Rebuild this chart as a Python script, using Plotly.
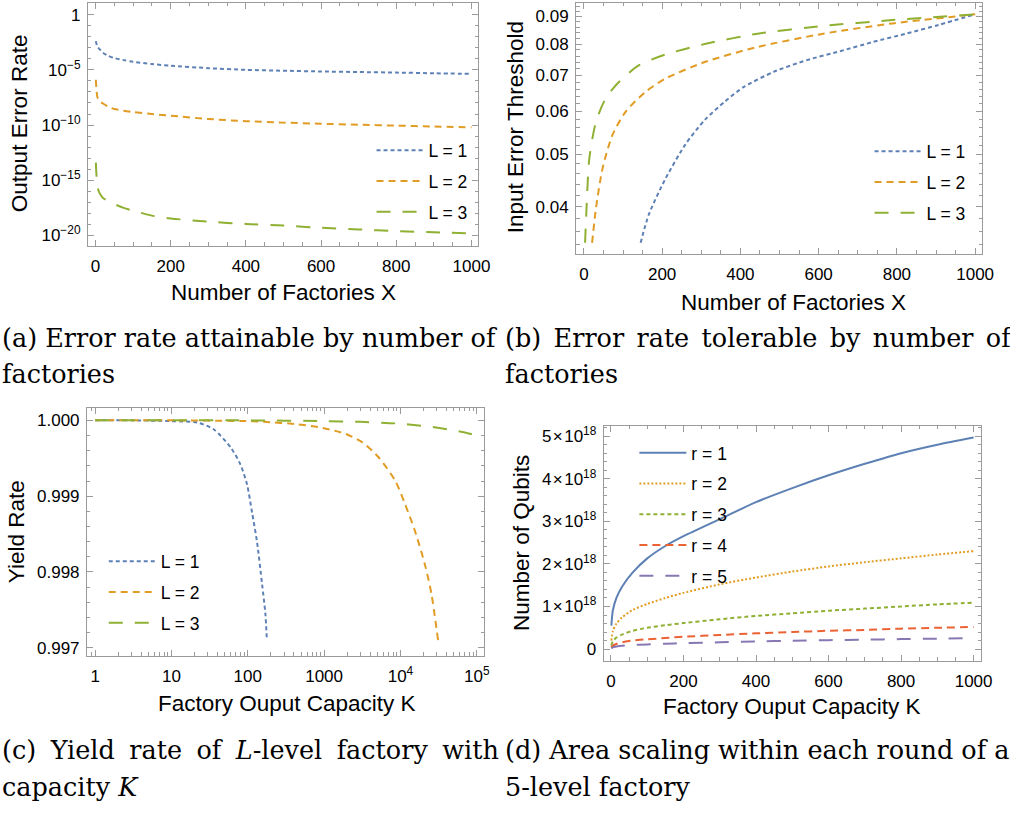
import plotly.graph_objects as go

W, H = 1010, 815
SANS = "Liberation Sans, Arial, Helvetica, sans-serif"
SERIF = "DejaVu Serif, serif"
FRAME = "#9b9b9b"
INK = "#000000"
BLUE, ORANGE, GREEN, RED, PURPLE = "#5E81B5", "#E19C24", "#8FB032", "#EB6235", "#8778B3"

# ---------------- (a) Output error rate vs number of factories (log10 exponents)
a_X = [1, 5, 10, 20, 35, 50, 75, 100, 150, 200, 300, 400, 500, 600, 700, 800, 900, 1000]
a_L1_exp = [-2.4, -2.9, -3.1, -3.45, -3.75, -3.93, -4.12, -4.27, -4.48, -4.63, -4.85, -5.0, -5.08, -5.15, -5.2, -5.25, -5.31, -5.37]
a_L2_exp = [-5.9, -7.45, -7.8, -8.05, -8.35, -8.55, -8.7, -8.82, -9.0, -9.15, -9.45, -9.65, -9.78, -9.88, -9.97, -10.05, -10.13, -10.2]
a_L3_exp = [-13.4, -15.5, -16.1, -16.6, -16.9, -17.15, -17.5, -17.75, -18.2, -18.45, -18.75, -18.95, -19.1, -19.3, -19.45, -19.6, -19.7, -19.8]

# ---------------- (b) Input error threshold vs number of factories
b_L1_X = [145, 166, 208, 259, 309, 360, 410, 486, 570, 655, 739, 823, 907, 1000]
b_L1 = [0.0343, 0.0387, 0.0450, 0.0521, 0.0579, 0.0626, 0.0667, 0.0711, 0.0747, 0.0776, 0.0807, 0.0836, 0.0868, 0.0908]
b_L2_X = [21, 31, 48, 73, 107, 158, 208, 309, 444, 612, 781, 1000]
b_L2 = [0.0343, 0.0398, 0.0472, 0.0543, 0.0600, 0.0653, 0.0690, 0.0741, 0.0790, 0.0836, 0.0872, 0.0908]
b_L3_X = [3, 6, 14, 31, 56, 90, 141, 208, 309, 444, 612, 781, 1000]
b_L3 = [0.0343, 0.0387, 0.0492, 0.0575, 0.0635, 0.0681, 0.0731, 0.0765, 0.0800, 0.0836, 0.0864, 0.0885, 0.0908]

# ---------------- (c) Yield rate vs factory output capacity K
c_L1_K = [1, 3, 10, 22, 36, 60, 80, 98, 114, 132, 154, 170, 178]
c_L1 = [1.0, 1.0, 0.99999, 0.99997, 0.99988, 0.99964, 0.99942, 0.99915, 0.99878, 0.9984, 0.99784, 0.99745, 0.9971]
c_L2_K = [1, 10, 100, 161, 436, 964, 1930, 3176, 5210, 8570, 11540, 15500, 20900, 25500, 31100]
c_L2 = [1.0, 1.0, 0.99999, 0.99998, 0.99995, 0.9999, 0.99982, 0.99971, 0.99951, 0.9992, 0.99889, 0.99854, 0.9981, 0.99771, 0.9971]
c_L3_K = [1, 10, 100, 1000, 3000, 8570, 23000, 42000, 70000, 100000]
c_L3 = [1.0, 1.0, 1.0, 0.99999, 0.99998, 0.99996, 0.99992, 0.99988, 0.99984, 0.9998]

# ---------------- (d) Number of qubits vs capacity K (units of 1e18)
d_K = [1, 5, 15, 30, 60, 100, 150, 200, 300, 400, 500, 600, 700, 800, 900, 1000]
d_r1 = [0.55, 0.9, 1.2, 1.46, 1.8, 2.13, 2.42, 2.65, 3.05, 3.45, 3.78, 4.08, 4.35, 4.6, 4.8, 4.97]
d_r2 = [0.2, 0.42, 0.6, 0.74, 0.92, 1.06, 1.2, 1.32, 1.52, 1.68, 1.82, 1.94, 2.04, 2.13, 2.22, 2.3]
d_r3 = [0.08, 0.18, 0.27, 0.34, 0.43, 0.5, 0.56, 0.61, 0.7, 0.78, 0.84, 0.9, 0.95, 1.0, 1.05, 1.09]
d_r4 = [0.03, 0.08, 0.12, 0.16, 0.2, 0.23, 0.26, 0.29, 0.33, 0.37, 0.4, 0.43, 0.45, 0.48, 0.5, 0.52]
d_r5 = [0.015, 0.04, 0.06, 0.08, 0.095, 0.11, 0.125, 0.14, 0.16, 0.18, 0.195, 0.21, 0.22, 0.235, 0.245, 0.257]
D_UNIT = 1e18

L_names = ["L = 1", "L = 2", "L = 3"]
r_names = ["r = 1", "r = 2", "r = 3", "r = 4", "r = 5"]

DASH_L = ["4px,3px", "7px,5px", "14px,12px"]
DASH_R = ["solid", "2px,2px", "4px,3px", "8px,5px", "14px,12px"]

fig = go.Figure()


def add(x, y, name, color, dash, xa, ya, legend):
    fig.add_trace(go.Scatter(
        x=x, y=y, name=name, mode="lines",
        line=dict(color=color, width=2, dash=dash, shape="spline", smoothing=0.7),
        xaxis=xa, yaxis=ya, legend=legend, legendgroup=legend + name,
        hoverinfo="skip"))


cols = [BLUE, ORANGE, GREEN]
for name, ex, col, ds in zip(L_names, [a_L1_exp, a_L2_exp, a_L3_exp], cols, DASH_L):
    add(a_X, [10 ** e for e in ex], name, col, ds, "x", "y", "legend")
for name, xs, ys, col, ds in zip(L_names, [b_L1_X, b_L2_X, b_L3_X], [b_L1, b_L2, b_L3], cols, DASH_L):
    add(xs, ys, name, col, ds, "x2", "y2", "legend2")
for name, xs, ys, col, ds in zip(L_names, [c_L1_K, c_L2_K, c_L3_K], [c_L1, c_L2, c_L3], cols, DASH_L):
    add(xs, ys, name, col, ds, "x3", "y3", "legend3")
for name, ys, col, ds in zip(r_names, [d_r1, d_r2, d_r3, d_r4, d_r5], [BLUE, ORANGE, GREEN, RED, PURPLE], DASH_R):
    add(d_K, [v * D_UNIT for v in ys], name, col, ds, "x4", "y4", "legend4")


def dom_x(a, b):
    return [a / W, b / W]


def dom_y(top, bottom):
    return [1 - bottom / H, 1 - top / H]


def axis(domain, rng, anchor, tickvals, ticktext, minor_vals, typ="linear", standoff=3):
    return dict(domain=domain, range=rng, anchor=anchor, type=typ,
                showline=True, linecolor=FRAME, linewidth=1, mirror="ticks",
                showgrid=False, zeroline=False,
                ticks="inside", ticklen=6, tickwidth=1, tickcolor=FRAME,
                tickmode="array", tickvals=tickvals, ticktext=ticktext,
                tickfont=dict(family=SANS, size=17, color=INK),
                ticklabelstandoff=standoff,
                minor=dict(ticks="inside", ticklen=3.5, tickwidth=1, tickcolor=FRAME,
                           tickmode="array", tickvals=minor_vals, showgrid=False),
                fixedrange=True)


lin_ticks = [0, 200, 400, 600, 800, 1000]
lin_minor = [v for v in range(50, 1001, 50) if v % 200 != 0]

# (a)
a_yt = [1, 1e-5, 1e-10, 1e-15, 1e-20]
a_ytt = ["1", "10<sup>\u22125</sup>", "10<sup>\u221210</sup>", "10<sup>\u221215</sup>", "10<sup>\u221220</sup>"]
a_ym = [10.0 ** (-k) for k in range(1, 21) if k % 5 != 0]
# (b)
b_yt = [0.04, 0.05, 0.06, 0.07, 0.08, 0.09]
b_ym = [round(0.032 + 0.002 * k, 3) for k in range(0, 32)]
b_ym = [v for v in b_ym if round(v * 100, 6) % 1 != 0]
# (c)
c_xt = [1, 10, 100, 1000, 1e4, 1e5]
c_xtt = ["1", "10", "100", "1000", "10<sup>4</sup>", "10<sup>5</sup>"]
c_xm = [0.8, 0.9] + [d * 10 ** k for k in range(0, 5) for d in range(2, 10)]
c_yt = [0.997, 0.998, 0.999, 1.0]
c_ytt = ["0.997", "0.998", "0.999", "1.000"]
c_ym = [round(0.997 + 0.0002 * k, 5) for k in range(0, 16) if k % 5 != 0]
# (d)
d_yt = [k * D_UNIT for k in range(0, 6)]
d_ytt = ["0"] + ["%d\u200a\u00d7\u200a10<sup>18</sup>" % k for k in range(1, 6)]
d_ym = [k * 0.2 * D_UNIT for k in range(0, 27) if k % 5 != 0]

fig.update_layout(
    width=W, height=H, margin=dict(l=0, r=0, t=0, b=0),
    paper_bgcolor="white", plot_bgcolor="white", showlegend=True,
    xaxis=axis(dom_x(89, 484), [-20, 1018], "y", lin_ticks, [str(v) for v in lin_ticks], lin_minor, standoff=5),
    yaxis=axis(dom_y(1, 245), [-20.93, 1.05], "x", a_yt, a_ytt, a_ym, typ="log"),
    xaxis2=axis(dom_x(583, 994), [-20, 1018], "y2", lin_ticks, [str(v) for v in lin_ticks], lin_minor, standoff=5),
    yaxis2=axis(dom_y(1, 253), [-1.485, -1.021], "x2", b_yt, ["%.2f" % v for v in b_yt], b_ym, typ="log"),
    xaxis3=axis(dom_x(88, 490), [-0.107, 5.097], "y3", c_xt, c_xtt, c_xm, typ="log", standoff=5),
    yaxis3=axis(dom_y(408, 657), [0.996895, 1.000163], "x3", c_yt, c_ytt, c_ym),
    xaxis4=axis(dom_x(611, 993), [-20, 1021], "y4", lin_ticks, [str(v) for v in lin_ticks], lin_minor, standoff=5),
    yaxis4=axis(dom_y(426, 662), [-0.274 * D_UNIT, 5.24 * D_UNIT], "x4", d_yt, d_ytt, d_ym),
)


def legend_at(xpx, ypx):
    return dict(x=xpx / W, y=1 - ypx / H, xanchor="left", yanchor="top",
                bgcolor="rgba(0,0,0,0)", borderwidth=0,
                font=dict(family=SANS, size=17.5, color=INK),
                itemwidth=47, tracegroupgap=5, traceorder="grouped",
                itemclick=False, itemdoubleclick=False)


fig.update_layout(
    legend=legend_at(376, 131),
    legend2=legend_at(880, 132),
    legend3=legend_at(105, 544),
    legend4=legend_at(642, 435),
)

ann = []


def title(text, xpx, ypx, rot=False):
    ann.append(dict(text=text, x=xpx / W, y=1 - ypx / H, xref="paper", yref="paper",
                    showarrow=False, xanchor="center", yanchor="middle",
                    textangle=-90 if rot else 0,
                    font=dict(family=SANS, size=22.5, color=INK)))


title("Output Error Rate", 20, 122, rot=True)
title("Number of Factories X", 287, 292)
title("Input Error Threshold", 522, 126, rot=True)
title("Number of Factories X", 803, 302)
title("Yield Rate", 17, 532, rot=True)
title("Factory Ouput Capacity K", 290, 705)
title("Number of Qubits", 528, 544, rot=True)
title("Factory Ouput Capacity K", 802, 708)


def caption(text, xpx, ypx):
    ann.append(dict(text=text, x=xpx / W, y=1 - ypx / H, xref="paper", yref="paper",
                    showarrow=False, xanchor="left", yanchor="middle",
                    font=dict(family=SERIF, size=25.5, color=INK)))


S6 = " \u2006"   # justified word gap (slightly stretched)
S4 = " \u2005"   # justified word gap (more stretched)
caption("(a) Error rate attainable by number of", 0, 338)
caption("factories", 0, 374)
caption(S6.join("(b) Error rate tolerable by number of".split(" ")), 509, 338)
caption("factories", 509, 374)
caption(S4.join("(c) Yield rate of <i>L</i>-level factory with".split(" ")), 0, 752)
caption("capacity <i>K</i>", 0, 789)
caption("(d) Area scaling within each round of a", 509, 752)
caption("5-level factory", 509, 789)

fig.update_layout(annotations=ann)

fig.write_html("out.html", include_plotlyjs=True, full_html=True,
               config={"displayModeBar": False, "staticPlot": True})
